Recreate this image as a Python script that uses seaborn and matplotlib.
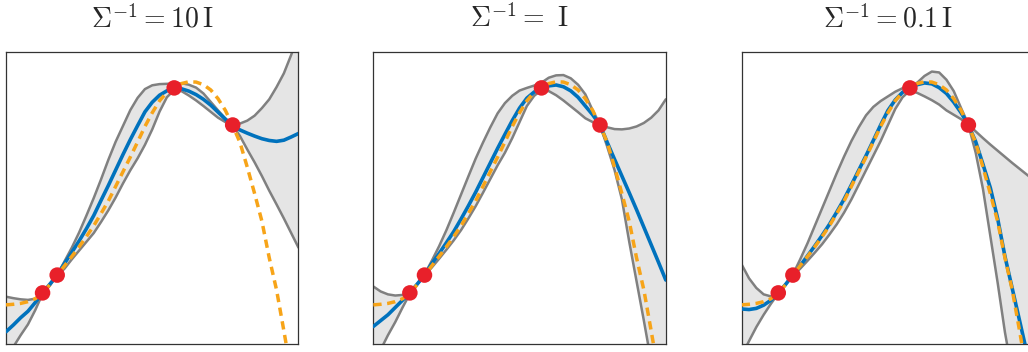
import numpy as np
import pandas as pd
import matplotlib.pyplot as plt
import seaborn as sns

# сетка по x (общая для всех кривых)
x_grid = [0.0, 0.025, 0.05, 0.075, 0.1, 0.125, 0.15, 0.175, 0.2, 0.225, 0.25,
          0.275, 0.3, 0.325, 0.35, 0.375, 0.4, 0.425, 0.45, 0.475, 0.5,
          0.525, 0.55, 0.575, 0.6, 0.625, 0.65, 0.675, 0.7, 0.725, 0.75,
          0.775, 0.8, 0.825, 0.85, 0.875, 0.9, 0.925, 0.95, 0.975, 1.0]

# наблюдения (красные точки)
x_obs = [0.125, 0.175, 0.575, 0.775]
y_obs = [0.175, 0.236, 0.877, 0.750]

# истинная функция (оранжевый пунктир)
y_true = [0.134, 0.136, 0.139, 0.145, 0.155, 0.175, 0.203, 0.236, 0.268, 0.300, 0.333,
          0.368, 0.405, 0.447, 0.490, 0.540, 0.590, 0.640, 0.692, 0.745, 0.792,
          0.833, 0.862, 0.878, 0.892, 0.898, 0.897, 0.888, 0.870, 0.840, 0.800,
          0.748, 0.690, 0.605, 0.515, 0.420, 0.295, 0.185, 0.045, -0.10, -0.26]

titles = [r'$\Sigma^{-1} = 10\,\mathrm{I}$',
          r'$\Sigma^{-1} =\ \mathrm{I}$',
          r'$\Sigma^{-1} = 0.1\,\mathrm{I}$']

# Sigma^-1 = 10 I
mean_10 = [0.042, 0.065, 0.090, 0.112, 0.142, 0.175, 0.205, 0.236, 0.276, 0.314, 0.353,
           0.395, 0.440, 0.492, 0.543, 0.596, 0.649, 0.700, 0.748, 0.795, 0.828,
           0.852, 0.867, 0.876, 0.874, 0.866, 0.854, 0.838, 0.818, 0.794, 0.770,
           0.748, 0.733, 0.722, 0.712, 0.703, 0.697, 0.694, 0.698, 0.709, 0.721]
upper_10 = [0.162, 0.157, 0.153, 0.151, 0.155, 0.172, 0.200, 0.236, 0.283, 0.330, 0.382,
            0.440, 0.500, 0.564, 0.631, 0.693, 0.747, 0.801, 0.843, 0.873, 0.886,
            0.890, 0.891, 0.892, 0.893, 0.888, 0.878, 0.858, 0.829, 0.800, 0.772,
            0.752, 0.755, 0.765, 0.782, 0.808, 0.838, 0.880, 0.927, 0.990, 1.06]
lower_10 = [-0.06, -0.01, 0.030, 0.067, 0.116, 0.172, 0.204, 0.234, 0.258, 0.290, 0.320,
            0.350, 0.380, 0.418, 0.458, 0.502, 0.550, 0.595, 0.636, 0.682, 0.735,
            0.796, 0.845, 0.870, 0.866, 0.851, 0.834, 0.815, 0.795, 0.775, 0.760,
            0.748, 0.712, 0.666, 0.622, 0.575, 0.525, 0.478, 0.430, 0.380, 0.330]

# Sigma^-1 = I
mean_1 = [0.060, 0.080, 0.100, 0.125, 0.150, 0.175, 0.205, 0.236, 0.275, 0.310, 0.347,
          0.385, 0.428, 0.473, 0.520, 0.570, 0.620, 0.670, 0.718, 0.765, 0.808,
          0.842, 0.863, 0.876, 0.884, 0.887, 0.881, 0.867, 0.845, 0.815, 0.785,
          0.750, 0.690, 0.632, 0.575, 0.518, 0.460, 0.400, 0.340, 0.280, 0.219]
upper_1 = [0.197, 0.180, 0.170, 0.166, 0.168, 0.178, 0.205, 0.238, 0.285, 0.335, 0.390,
           0.450, 0.512, 0.574, 0.635, 0.690, 0.742, 0.790, 0.825, 0.850, 0.868,
           0.877, 0.885, 0.895, 0.912, 0.920, 0.921, 0.910, 0.888, 0.855, 0.800,
           0.752, 0.742, 0.736, 0.735, 0.738, 0.745, 0.757, 0.775, 0.800, 0.838]
lower_1 = [-0.06, -0.02, 0.030, 0.075, 0.125, 0.172, 0.204, 0.234, 0.262, 0.292, 0.323,
           0.355, 0.390, 0.430, 0.472, 0.518, 0.565, 0.612, 0.655, 0.705, 0.760,
           0.815, 0.850, 0.870, 0.866, 0.852, 0.834, 0.814, 0.794, 0.773, 0.760,
           0.750, 0.675, 0.595, 0.495, 0.350, 0.215, 0.080, -0.060, -0.20, -0.35]

# Sigma^-1 = 0.1 I
mean_01 = [0.120, 0.118, 0.122, 0.133, 0.150, 0.175, 0.204, 0.236, 0.268, 0.302, 0.336,
           0.372, 0.410, 0.452, 0.496, 0.545, 0.595, 0.645, 0.697, 0.750, 0.800,
           0.836, 0.862, 0.876, 0.888, 0.894, 0.891, 0.878, 0.858, 0.828, 0.792,
           0.750, 0.693, 0.615, 0.535, 0.430, 0.300, 0.190, 0.080, -0.030, -0.14]
upper_01 = [0.272, 0.225, 0.192, 0.170, 0.163, 0.178, 0.205, 0.238, 0.290, 0.345, 0.405,
            0.465, 0.525, 0.585, 0.642, 0.695, 0.742, 0.783, 0.812, 0.832, 0.848,
            0.864, 0.876, 0.882, 0.895, 0.918, 0.933, 0.930, 0.905, 0.866, 0.808,
            0.752, 0.728, 0.705, 0.683, 0.662, 0.641, 0.620, 0.600, 0.580, 0.560]
lower_01 = [-0.04, 0.010, 0.058, 0.100, 0.138, 0.173, 0.204, 0.234, 0.258, 0.285, 0.313,
            0.342, 0.375, 0.410, 0.450, 0.495, 0.545, 0.595, 0.645, 0.695, 0.750,
            0.805, 0.845, 0.868, 0.860, 0.848, 0.835, 0.820, 0.800, 0.785, 0.770,
            0.750, 0.655, 0.530, 0.370, 0.210, 0.040, -0.10, -0.30, -0.50, -0.70]

means = [mean_10, mean_1, mean_01]
uppers = [upper_10, upper_1, upper_01]
lowers = [lower_10, lower_1, lower_01]

sns.set_style('white')
plt.rcParams['mathtext.fontset'] = 'cm'

fig = plt.figure(figsize=(10.28, 3.52), dpi=100)
lefts = [6 / 1028, 373.3 / 1028, 741.7 / 1028]

for i in range(3):
    ax = fig.add_axes([lefts[i], 8 / 352, 292.5 / 1028, 292 / 352])
    df = pd.DataFrame({'x': x_grid, 'mean': means[i], 'upper': uppers[i],
                       'lower': lowers[i], 'true': y_true})

    ax.fill_between(df['x'], df['lower'], df['upper'], color='#e5e5e5', lw=0, zorder=1)
    sns.lineplot(data=df, x='x', y='upper', color='#808080', lw=1.8, ax=ax, zorder=2)
    sns.lineplot(data=df, x='x', y='lower', color='#808080', lw=1.8, ax=ax, zorder=2)
    sns.lineplot(data=df, x='x', y='mean', color='#0072bd', lw=2.6, ax=ax, zorder=3)
    sns.lineplot(data=df, x='x', y='true', color='#f7a418', lw=2.5, ax=ax, zorder=4,
                 linestyle=(0, (2.4, 1.6)))
    sns.scatterplot(x=x_obs, y=y_obs, color='#e8202a', s=125, edgecolor='none',
                    ax=ax, zorder=5)

    ax.set_xlim(0, 1)
    ax.set_ylim(0, 1)
    ax.set_xticks([])
    ax.set_yticks([])
    ax.set_xlabel('')
    ax.set_ylabel('')
    for s in ax.spines.values():
        s.set_color('#333333')
        s.set_linewidth(0.9)
    ax.set_title(titles[i], fontsize=20, pad=18)

fig.savefig('out.png', dpi=100)
